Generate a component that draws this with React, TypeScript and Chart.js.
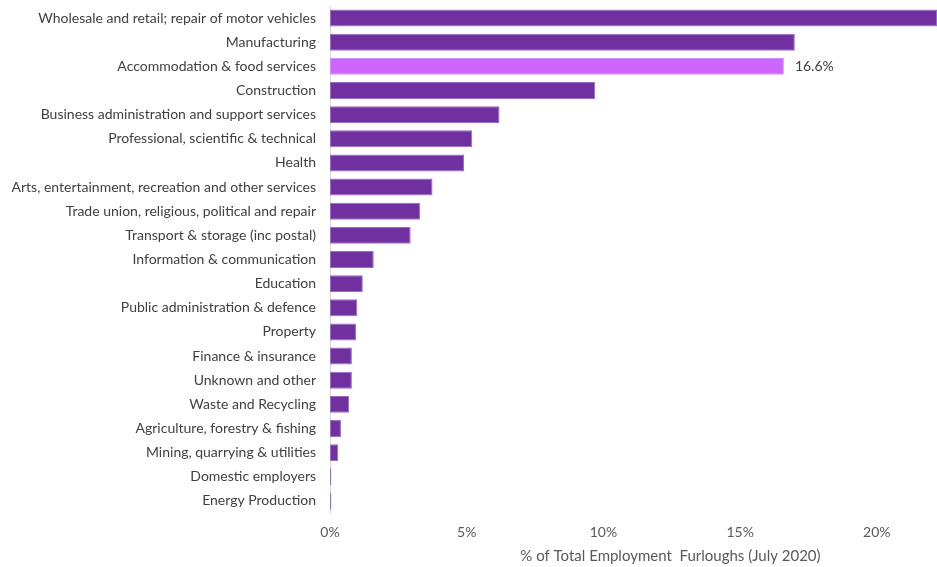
import React, { useEffect, useRef } from "react";
import { Chart, registerables } from "chart.js";

Chart.register(...registerables);

const categories = [
  "Wholesale and retail; repair of motor vehicles",
  "Manufacturing",
  "Accommodation & food services",
  "Construction",
  "Business administration and support services",
  "Professional, scientific & technical",
  "Health",
  "Arts, entertainment, recreation and other services",
  "Trade union, religious, political and repair",
  "Transport & storage (inc postal)",
  "Information & communication",
  "Education",
  "Public administration & defence",
  "Property",
  "Finance & insurance",
  "Unknown and other",
  "Waste and Recycling",
  "Agriculture, forestry & fishing",
  "Mining, quarrying & utilities",
  "Domestic employers",
  "Energy Production",
];

const values = [
  22.2, 17.0, 16.6, 9.7, 6.2, 5.2, 4.9, 3.75, 3.3, 2.95, 1.6, 1.2, 1.0, 0.95, 0.8,
  0.8, 0.7, 0.4, 0.3, 0.05, 0.05,
];

const highlightCategory = "Accommodation & food services";
const xTicks = [0, 5, 10, 15, 20];
const xMax = 22.2;
const axisTitle = "% of Total Employment  Furloughs (July 2020)";

const FONT = "Lato, 'Open Sans', sans-serif";

export default function App() {
  const ref = useRef<HTMLCanvasElement | null>(null);

  useEffect(() => {
    if (!ref.current) return;
    const isHi = (i: number) => categories[i] === highlightCategory;

    const labelPlugin = {
      id: "hiLabel",
      afterDatasetsDraw(chart: any) {
        const ctx = chart.ctx;
        const meta = chart.getDatasetMeta(0);
        ctx.save();
        ctx.font = `14px ${FONT}`;
        ctx.fillStyle = "#404040";
        ctx.textBaseline = "middle";
        ctx.textAlign = "left";
        meta.data.forEach((bar: any, i: number) => {
          if (isHi(i)) {
            ctx.fillText(values[i].toFixed(1) + "%", bar.x + 11, bar.y);
          }
        });
        const xs = chart.scales.x;
        ctx.font = `15px ${FONT}`;
        ctx.fillStyle = "#595959";
        ctx.textAlign = "center";
        ctx.fillText(axisTitle, xs.getPixelForValue(12.45), chart.height - 11);
        ctx.restore();
      },
    };

    const chart = new Chart(ref.current, {
      type: "bar",
      data: {
        labels: categories,
        datasets: [
          {
            data: values,
            backgroundColor: categories.map((_, i) => (isHi(i) ? "#CC66FF" : "#7030A0")),
            borderColor: categories.map((_, i) => (isHi(i) ? "#D98CFF" : "#9A6CC2")),
            borderWidth: 1,
            borderSkipped: false,
            barPercentage: 0.7,
            categoryPercentage: 1,
          },
        ],
      },
      options: {
        indexAxis: "y",
        animation: false,
        responsive: false,
        maintainAspectRatio: false,
        layout: { padding: { top: 6, right: 0, bottom: 0, left: 0 } },
        plugins: {
          legend: { display: false },
          tooltip: { enabled: false },
        },
        scales: {
          x: {
            min: 0,
            max: xMax,
            afterBuildTicks(scale: any) {
              scale.ticks = xTicks.map((v) => ({ value: v }));
            },
            afterFit(scale: any) {
              scale.height = 54;
              scale.paddingLeft = 0;
              scale.paddingRight = 0;
            },
            grid: { display: false, drawTicks: false },
            border: { display: false },
            ticks: {
              padding: 11,
              color: "#595959",
              font: { family: FONT, size: 14 },
              callback: (v: any) => v + "%",
              maxRotation: 0,
            },
          },
          y: {
            afterFit(scale: any) {
              scale.width = 330;
              scale.paddingTop = 0;
              scale.paddingBottom = 0;
            },
            grid: { display: false, drawTicks: false },
            border: { display: true, color: "#D9D9D9", width: 1 },
            ticks: {
              padding: 14,
              color: "#404040",
              font: { family: FONT, size: 14 },
              autoSkip: false,
            },
          },
        },
      },
      plugins: [labelPlugin],
    });
    return () => chart.destroy();
  }, []);

  return (
    <div style={{ position: "absolute", left: 0, top: 0, width: 937, height: 567, background: "#fff" }}>
      <canvas ref={ref} width={937} height={567} style={{ display: "block" }} />
    </div>
  );
}
